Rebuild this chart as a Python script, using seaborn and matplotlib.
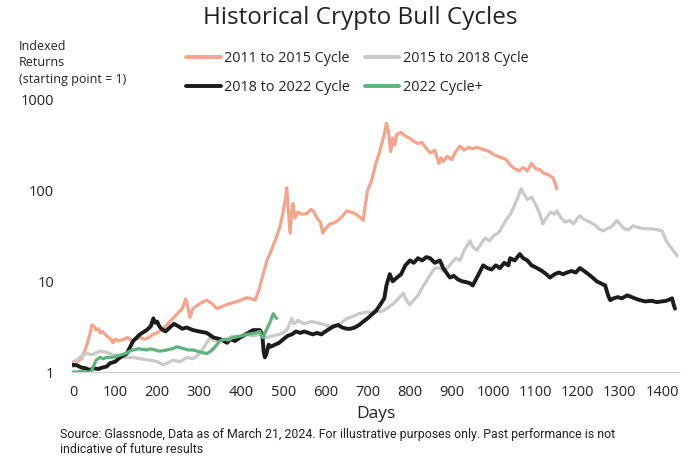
import matplotlib
matplotlib.use("Agg")
import matplotlib.pyplot as plt
import seaborn as sns
import pandas as pd

# ---------------- data ----------------
days_1115 = [0, 10, 20, 30, 40, 45, 50, 55, 60, 65, 70, 80, 90, 95, 100, 110, 120, 130, 140, 150,
             160, 170, 180, 190, 200, 210, 220, 230, 240, 250, 260, 268, 272, 278, 285, 295, 305, 318,
             330, 342, 355, 368, 380, 395, 413, 425, 433, 442, 452, 461, 468, 476, 485, 492, 500, 505,
             508, 512, 516, 520, 523, 528, 535, 545, 556, 565, 571, 580, 588, 594, 600, 611, 620, 630,
             640, 651, 660, 670, 680, 690, 695, 700, 710, 720, 730, 740, 745, 750, 755, 760, 765, 770,
             780, 790, 800, 810, 820, 830, 840, 850, 860, 870, 875, 880, 890, 900, 910, 920, 930, 940,
             950, 960, 970, 980, 990, 1000, 1010, 1020, 1030, 1040, 1050, 1060, 1070, 1080, 1090, 1100,
             1110, 1120, 1130, 1140, 1145, 1150]
vals_1115 = [1.15, 1.3, 1.4, 1.8, 2.6, 3.3, 3.2, 2.9, 3.0, 2.7, 2.8, 2.5, 2.3, 2.1, 2.3, 2.2, 2.3, 2.4, 2.2, 2.3,
             2.4, 2.3, 2.4, 2.6, 2.7, 2.9, 3.2, 3.6, 4.0, 4.5, 5.0, 6.4, 5.5, 4.0, 5.0, 5.4, 5.8, 6.2,
             5.7, 5.0, 5.3, 5.6, 5.8, 6.1, 6.6, 6.4, 6.2, 8, 12, 17, 20, 25, 32, 40, 60, 80,
             108, 60, 34, 60, 72, 50, 58, 55, 56, 62, 60, 50, 45, 34, 38, 43, 44, 47,
             52, 60, 58, 56, 52, 47, 70, 100, 130, 200, 280, 420, 550, 450, 270, 380, 320, 420,
             440, 400, 380, 350, 330, 340, 290, 260, 280, 200, 230, 210, 240, 220, 270, 310, 280, 300,
             290, 300, 290, 280, 270, 250, 240, 230, 220, 190, 175, 165, 180, 165, 200, 175,
             170, 155, 150, 140, 125, 105]

days_1518 = [0, 9, 20, 33, 45, 64, 80, 95, 110, 125, 143, 160, 183, 200, 215, 223, 238, 255, 271, 285,
             302, 315, 326, 340, 350, 365, 380, 395, 413, 428, 443, 460, 475, 490, 500, 510, 520, 525,
             535, 550, 565, 580, 600, 619, 635, 651, 660, 670, 680, 690, 700, 710, 720, 730, 740, 750,
             760, 770, 780, 785, 790, 800, 810, 820, 830, 840, 850, 860, 872, 880, 890, 900, 910, 920,
             930, 944, 950, 960, 970, 980, 990, 1000, 1010, 1015, 1020, 1030, 1040, 1050, 1060, 1065,
             1070, 1080, 1090, 1100, 1110, 1117, 1125, 1135, 1145, 1150, 1160, 1170, 1180, 1190, 1200,
             1205, 1215, 1225, 1240, 1250, 1260, 1270, 1280, 1293, 1300, 1310, 1320, 1332, 1345, 1360,
             1375, 1390, 1400, 1410, 1420, 1430, 1436]
vals_1518 = [1.3, 1.35, 1.5, 1.6, 1.55, 1.7, 1.65, 1.55, 1.5, 1.45, 1.45, 1.4, 1.35, 1.3, 1.2, 1.25, 1.35, 1.3, 1.45, 1.4,
             1.6, 2.0, 2.4, 2.2, 2.2, 2.3, 2.5, 2.4, 2.6, 2.5, 2.6, 2.4, 2.5, 2.6, 2.7, 3.0, 3.9, 3.4,
             3.7, 3.4, 3.6, 3.5, 3.3, 3.1, 3.4, 3.9, 4.0, 4.2, 4.4, 4.5, 4.6, 4.5, 4.8, 4.6, 4.8, 5.2,
             5.6, 6.2, 7.0, 7.4, 6.5, 5.5, 6.2, 7.0, 8.5, 10, 12, 14, 14, 13, 14, 16, 18, 17,
             22, 28, 24, 22, 26, 30, 28, 32, 34, 36, 40, 48, 55, 70, 90, 105,
             95, 80, 85, 70, 55, 43, 50, 58, 55, 60, 50, 45, 47, 43, 50,
             53, 48, 46, 42, 38, 36, 38, 40, 47, 43, 38, 37, 41, 39, 38,
             38, 37, 36, 28, 24, 21, 19]

days_1822 = [0, 10, 20, 30, 40, 48, 60, 70, 80, 88, 100, 112, 128, 143, 159, 175, 185, 191, 195, 200,
             205, 210, 220, 230, 240, 250, 260, 270, 285, 300, 318, 334, 350, 366, 375, 385, 397, 410,
             428, 444, 450, 453, 456, 460, 465, 470, 480, 490, 500, 510, 520, 530, 540, 550, 560, 570,
             580, 590, 600, 610, 620, 630, 640, 650, 660, 670, 680, 690, 700, 710, 720, 730, 740, 745,
             753, 760, 770, 780, 790, 801, 810, 820, 830, 840, 849, 860, 872, 880, 890, 896, 905, 915,
             925, 935, 944, 950, 960, 975, 985, 995, 1005, 1015, 1025, 1035, 1039, 1050, 1062, 1070,
             1080, 1090, 1103, 1115, 1125, 1134, 1145, 1155, 1165, 1174, 1185, 1195, 1205, 1215, 1225,
             1235, 1245, 1255, 1265, 1272, 1277, 1285, 1295, 1305, 1317, 1325, 1335, 1348, 1360, 1375,
             1388, 1400, 1410, 1418, 1424, 1428, 1431]
vals_1822 = [1.2, 1.18, 1.12, 1.1, 1.05, 1.1, 1.08, 1.12, 1.15, 1.25, 1.3, 1.45, 1.6, 2.2, 2.6, 2.9, 3.2, 3.9, 3.5, 3.6,
             3.2, 3.0, 2.8, 3.1, 3.4, 3.2, 3.0, 3.1, 2.9, 2.8, 2.7, 2.4, 2.3, 2.1, 2.3, 2.2, 2.4, 2.6,
             2.9, 2.9, 2.6, 1.7, 1.45, 1.6, 2.0, 1.9, 2.0, 2.1, 2.3, 2.5, 2.6, 2.8, 2.7, 2.8, 2.7, 2.6,
             2.7, 2.6, 2.8, 3.0, 3.2, 3.3, 3.1, 3.0, 3.0, 3.1, 3.3, 3.6, 3.9, 4.3, 4.7, 5.5, 6.5, 9,
             12, 10, 11, 12, 15, 17, 16, 18, 17, 18.5, 18, 16, 17, 14, 12, 11, 11.5, 10.5,
             10, 9.8, 9.5, 9.0, 11, 15, 14, 13.5, 15, 14, 16, 15, 18, 17, 20, 18,
             17, 15, 14, 13, 12, 11, 12, 12.5, 12, 12.5, 13, 12.5, 14, 13, 12,
             11, 10, 9.5, 9, 7, 6.2, 6.5, 6.7, 6.5, 7, 6.8, 6.5, 6.2, 6.0, 6.1,
             5.9, 6.0, 6.1, 6.3, 6.5, 5.5, 5.0]

days_22 = [0, 10, 20, 30, 40, 45, 50, 55, 64, 72, 80, 95, 105, 115, 125, 135, 143, 155, 165, 175,
           183, 195, 205, 215, 223, 235, 247, 255, 265, 275, 285, 295, 305, 318, 328, 338, 349, 360,
           370, 380, 390, 400, 413, 425, 435, 444, 448, 452, 458, 464, 470, 476, 480, 484]
vals_22 = [1.0, 1.0, 1.02, 1.0, 1.0, 1.05, 1.2, 1.35, 1.45, 1.4, 1.45, 1.45, 1.5, 1.55, 1.6, 1.7, 1.75, 1.8, 1.78, 1.75,
           1.8, 1.75, 1.7, 1.72, 1.75, 1.8, 1.9, 1.85, 1.8, 1.75, 1.75, 1.7, 1.65, 1.6, 1.7, 1.9, 2.2, 2.3,
           2.25, 2.4, 2.45, 2.5, 2.6, 2.65, 2.7, 2.8, 2.5, 2.4, 2.8, 3.2, 3.7, 4.4, 4.1, 3.9]

series_names = ["2011 to 2015 Cycle", "2015 to 2018 Cycle", "2018 to 2022 Cycle", "2022 Cycle+"]
y_ticks = [1, 10, 100, 1000]
y_ticklabels = ["1", "10", "100", "1000"]
x_ticks = [0, 100, 200, 300, 400, 500, 600, 700, 800, 900, 1000, 1100, 1200, 1300, 1400]

title = "Historical Crypto Bull Cycles"
ylabel = "Indexed\nReturns\n(starting point = 1)"
xlabel = "Days"
source = ("Source: Glassnode, Data as of March 21, 2024. For illustrative purposes only. Past performance is not\n"
          "indicative of future results")

# ---------------- build long table ----------------
frames = []
for name, d, v in zip(series_names, [days_1115, days_1518, days_1822, days_22],
                      [vals_1115, vals_1518, vals_1822, vals_22]):
    frames.append(pd.DataFrame({"Days": d, "Return": v, "Cycle": name}))
df = pd.concat(frames, ignore_index=True)

palette = {
    "2011 to 2015 Cycle": "#F5A48B",
    "2015 to 2018 Cycle": "#C9C9C9",
    "2018 to 2022 Cycle": "#1c1c1c",
    "2022 Cycle+": "#5FB37C",
}
widths = {
    "2011 to 2015 Cycle": 2.3,
    "2015 to 2018 Cycle": 2.3,
    "2018 to 2022 Cycle": 2.8,
    "2022 Cycle+": 2.3,
}

sns.set_style("white")
plt.rcParams["font.family"] = ["Open Sans", "DejaVu Sans"]

fig = plt.figure(figsize=(7, 4.69), dpi=100)
ax = fig.add_axes([0.1031, 0.2068, 0.8666, 0.580])

for name in series_names:
    sub = df[df["Cycle"] == name]
    sns.lineplot(data=sub, x="Days", y="Return", color=palette[name], lw=widths[name],
                 ax=ax, label=name, estimator=None, sort=False, zorder=3)

ax.set_yscale("log")
ax.set_ylim(1, 1000)
ax.set_xlim(-2, 1440)
ax.set_yticks(y_ticks)
ax.set_yticklabels(y_ticklabels)
ax.set_xticks(x_ticks)
ax.set_xticklabels([str(t) for t in x_ticks])
ax.minorticks_off()
ax.tick_params(axis="both", length=0, labelsize=10.5, colors="#222222")
ax.tick_params(axis="y", pad=13)
ax.tick_params(axis="x", pad=9)
ax.set_xlabel(xlabel, fontsize=12.5, color="#222222", labelpad=5)
ax.set_ylabel("")
for s in ["left", "top", "right"]:
    ax.spines[s].set_visible(False)
ax.spines["bottom"].set_color("#d5d5d5")
ax.spines["bottom"].set_linewidth(1.0)
ax.grid(False)

# legend: row1 = 2011-15, 2015-18 ; row2 = 2018-22, 2022+
h, l = ax.get_legend_handles_labels()
if ax.get_legend():
    ax.get_legend().remove()
order = [0, 2, 1, 3]
leg = fig.legend([h[i] for i in order], [l[i] for i in order], ncol=2, loc="upper left",
                 bbox_to_anchor=(186 / 700, 1 - 51 / 469), frameon=False, fontsize=10.4,
                 handlelength=2.4, handletextpad=0.25, columnspacing=1.0, labelspacing=0.95,
                 borderpad=0, borderaxespad=0)
for line in leg.get_lines():
    line.set_linewidth(2.8)
for t in leg.get_texts():
    t.set_color("#222222")

fig.text(0.515, 1 - 18 / 469, title, ha="center", va="center", fontsize=17.5, color="#222222")
fig.text(19 / 700, 1 - 40 / 469, ylabel, ha="left", va="top", fontsize=9, color="#222222",
         linespacing=1.35)
fig.text(60 / 700, 1 - 428 / 469, source, ha="left", va="top", fontsize=8.9, color="#222222",
         family=["Roboto", "DejaVu Sans"], linespacing=1.15)

fig.savefig("out.png", dpi=100)
